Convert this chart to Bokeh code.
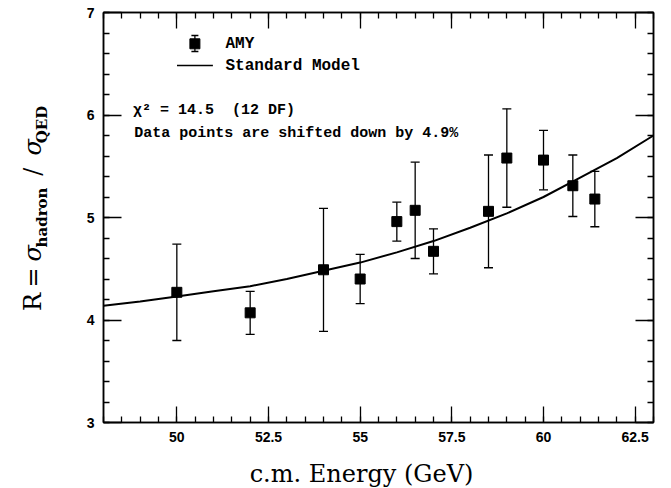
import math
from bokeh.plotting import figure
from bokeh.layouts import row, column
from bokeh.models import (LinearAxis, Range1d, SingleIntervalTicker, Whisker,
                          ColumnDataSource, Label, TeeHead)
from bokeh.embed import file_html
from bokeh.resources import INLINE

# ---------------- data ----------------
energy = [50.0, 52.0, 54.0, 55.0, 56.0, 56.5, 57.0, 58.5, 59.0, 60.0, 60.8, 61.4]
r_val = [4.27, 4.07, 4.49, 4.40, 4.96, 5.07, 4.67, 5.06, 5.58, 5.56, 5.31, 5.18]
r_err = [0.47, 0.21, 0.60, 0.24, 0.19, 0.47, 0.22, 0.55, 0.48, 0.29, 0.30, 0.27]

sm_energy = [48, 49, 50, 51, 52, 53, 54, 55, 56, 57, 58, 59, 60, 61, 62, 63]
sm_r = [4.14, 4.18, 4.23, 4.28, 4.33, 4.40, 4.48, 4.56, 4.66, 4.77, 4.90, 5.04,
        5.20, 5.39, 5.58, 5.80]

x_ticks_interval = 2.5
y_ticks_interval = 1.0
legend_labels = ["AMY", "Standard Model"]
note_lines = ["\u03c7\u00b2 = 14.5 \u00a0(12 DF)", "Data points are shifted down by 4.9%"]
x_title = "c.m. Energy (GeV)"
y_title_parts = ["R", "=", "\u03c3", "hadron", "/", "\u03c3", "QED"]

# ---------------- layout (page pixels; Bokeh's page has no body margin) ----------------
XMIN, XMAX, YMIN, YMAX = 48, 63, 3, 7
YLAB_W = 68            # left strip holding the y title
PW, PH = 603, 452      # main plot
XLAB_H = 36            # bottom strip holding the x title
BL, BR, BT, BB = 35, 18, 12, 30
FX0, FX1 = YLAB_W + BL, YLAB_W + PW - BR
FY0, FY1 = BT, PH - BB


def dx(sx):
    return XMIN + (sx - FX0) * (XMAX - XMIN) / (FX1 - FX0)


def dy(sy):
    return YMAX - (sy - FY0) * (YMAX - YMIN) / (FY1 - FY0)


p = figure(width=PW, height=PH, x_range=Range1d(XMIN, XMAX), y_range=Range1d(YMIN, YMAX),
           output_backend="svg", toolbar_location=None, title=None,
           min_border_left=BL, min_border_right=BR, min_border_top=BT, min_border_bottom=BB)
p.xgrid.visible = False
p.ygrid.visible = False
p.outline_line_color = "black"
p.outline_line_width = 1.5
p.background_fill_color = "white"
p.border_fill_color = "white"


def style_axis(ax, major_len, show_labels):
    ax.axis_line_width = 1.5
    ax.axis_line_color = "black"
    ax.major_tick_in = major_len
    ax.major_tick_out = 0
    ax.minor_tick_in = 6
    ax.minor_tick_out = 0
    ax.major_tick_line_width = 1.3
    ax.minor_tick_line_width = 1.3
    ax.major_tick_line_color = "black"
    ax.minor_tick_line_color = "black"
    if show_labels:
        ax.major_label_text_font = "Liberation Sans"
        ax.major_label_text_font_style = "bold"
        ax.major_label_text_font_size = "14px"
        ax.major_label_text_color = "black"
        ax.major_label_standoff = 9
    else:
        ax.major_label_text_font_size = "1px"
        ax.major_label_text_color = None
        ax.major_label_standoff = 0


p.xaxis.ticker = SingleIntervalTicker(interval=x_ticks_interval, num_minor_ticks=5)
p.yaxis.ticker = SingleIntervalTicker(interval=y_ticks_interval, num_minor_ticks=5)
style_axis(p.xaxis[0], 16, True)
style_axis(p.yaxis[0], 18, True)

top = LinearAxis(ticker=SingleIntervalTicker(interval=x_ticks_interval, num_minor_ticks=5))
style_axis(top, 16, False)
p.add_layout(top, "above")
right = LinearAxis(ticker=SingleIntervalTicker(interval=y_ticks_interval, num_minor_ticks=5))
style_axis(right, 18, False)
p.add_layout(right, "right")

# ---------------- data marks ----------------
src = ColumnDataSource(dict(
    e=energy, r=r_val,
    lo=[v - e for v, e in zip(r_val, r_err)],
    hi=[v + e for v, e in zip(r_val, r_err)],
))

p.line(sm_energy, sm_r, line_width=2, color="black")

wh = Whisker(base="e", upper="hi", lower="lo", source=src, dimension="height",
             line_width=1.3, line_color="black",
             upper_head=TeeHead(size=9, line_width=1.3, line_color="black"),
             lower_head=TeeHead(size=9, line_width=1.3, line_color="black"))
p.add_layout(wh)
p.scatter(x="e", y="r", source=src, marker="square", size=10, color="black")

# ---------------- legend (manual) ----------------
lx, ly = 194.4, 43.3
p.segment(x0=[dx(lx)], y0=[dy(35)], x1=[dx(lx)], y1=[dy(51)], line_width=1.3, color="black")
p.scatter(x=[dx(lx), dx(lx)], y=[dy(35), dy(51)], marker="dash", size=7,
          line_width=1.3, color="black")
p.scatter(x=[dx(lx)], y=[dy(ly)], marker="square", size=10, color="black")
p.segment(x0=[dx(176.5)], y0=[dy(65)], x1=[dx(212.4)], y1=[dy(65)], line_width=1.5, color="black")

for txt, sy in zip(legend_labels, [43.3, 65]):
    p.add_layout(Label(x=dx(225), y=dy(sy), text=txt, text_font="Liberation Mono",
                       text_font_style="bold", text_font_size="16px",
                       text_align="left", text_baseline="middle", text_color="black"))

for txt, sx, sy in zip(note_lines, [132.5, 133.8], [110, 132.7]):
    p.add_layout(Label(x=dx(sx), y=dy(sy), text=txt, text_font="Liberation Mono",
                       text_font_style="bold", text_font_size="15px",
                       text_align="left", text_baseline="middle", text_color="black"))

# ---------------- y title strip ----------------
ylab = figure(width=YLAB_W, height=PH, x_range=Range1d(0, YLAB_W), y_range=Range1d(PH, 0),
              output_backend="svg", toolbar_location=None, title=None,
              x_axis_location=None, y_axis_location=None, min_border=0)
ylab.xgrid.visible = False
ylab.ygrid.visible = False
ylab.outline_line_color = None

# (centre y on page, font size, style, centre-line x on page)
y_geom = [(319, "24px", "normal", 32.5), (292, "24px", "normal", 32.5),
          (265.5, "24px", "italic", 32.5), (226, "15px", "bold", 41.5),
          (175.5, "24px", "normal", 32.5), (148.5, "24px", "italic", 32.5),
          (123.5, "15px", "bold", 41.5)]
for txt, (cy, fs, st, cx) in zip(y_title_parts, y_geom):
    ylab.add_layout(Label(x=cx, y=cy, text=txt, angle=math.pi / 2,
                          text_font="DejaVu Serif", text_font_size=fs, text_font_style=st,
                          text_align="center", text_baseline="middle", text_color="black"))

# ---------------- x title strip ----------------
XW = YLAB_W + PW
xlab = figure(width=XW, height=XLAB_H, x_range=Range1d(0, XW), y_range=Range1d(XLAB_H, 0),
              output_backend="svg", toolbar_location=None, title=None,
              x_axis_location=None, y_axis_location=None, min_border=0)
xlab.xgrid.visible = False
xlab.ygrid.visible = False
xlab.outline_line_color = None
xlab.add_layout(Label(x=361, y=473 - PH, text=x_title,
                      text_font="DejaVu Serif", text_font_size="24px",
                      text_align="center", text_baseline="middle", text_color="black"))

layout = column(row(ylab, p, spacing=0), xlab, spacing=0)
open("out.html", "w").write(file_html(layout, INLINE))
